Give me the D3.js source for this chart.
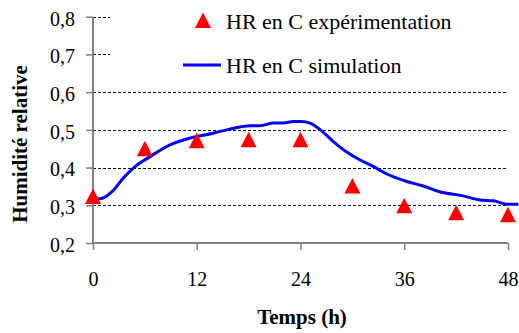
<!DOCTYPE html>
<html>
<head>
<meta charset="utf-8">
<script src="https://cdn.jsdelivr.net/npm/d3@7"></script>
<style>
  html, body { margin: 0; padding: 0; background: #fff; }
  svg { display: block; }
  svg text { font-family: "Times New Roman", "Liberation Serif", Tinos, "DejaVu Serif", serif !important; fill: #000; }
</style>
</head>
<body>
<svg id="chart" width="519" height="333"></svg>
<script>
// ---- data ----
const expTimes = [0, 6, 12, 18, 24, 30, 36, 42, 48];
const expValues = [0.323, 0.45, 0.471, 0.474, 0.474, 0.351, 0.299, 0.280, 0.275];

const simTimes = [0, 1, 2.2, 3.5, 4.9, 6.6, 8.9, 11.2, 13.9, 15.8, 18.2, 19.3, 20.9, 22, 23.2, 24.1, 25.1, 26.3, 27.8, 29.3, 30.9, 32.4, 34, 36.3, 38.2, 40.1, 42.8, 44.8, 46.3, 47.8, 49.2];
const simValues = [0.316, 0.318, 0.336, 0.372, 0.403, 0.429, 0.46, 0.478, 0.491, 0.502, 0.511, 0.511, 0.518, 0.518, 0.522, 0.522, 0.518, 0.5, 0.469, 0.442, 0.42, 0.403, 0.383, 0.363, 0.351, 0.336, 0.325, 0.314, 0.312, 0.303, 0.303];

const xTicks = [0, 12, 24, 36, 48];
const yTicks = [0.2, 0.3, 0.4, 0.5, 0.6, 0.7, 0.8];
const legendLabels = ["HR en C expérimentation", "HR en C simulation"];
const xTitle = "Temps (h)";
const yTitle = "Humidité relative";

// ---- layout ----
const svg = d3.select("#chart");
const x = d3.scaleLinear().domain([0, 48]).range([93, 508]);
const y = d3.scaleLinear().domain([0.2, 0.8]).range([243, 16.7]);
const fmt = d => d3.format(".1f")(d).replace(".", ",");

// gridlines
svg.append("g").selectAll("line").data(yTicks.filter(d => d > 0.2)).join("line")
  .attr("x1", x(0)).attr("x2", x(48))
  .attr("y1", d => Math.round(y(d)) + 0.5).attr("y2", d => Math.round(y(d)) + 0.5)
  .attr("stroke", "#000").attr("stroke-width", 1).attr("stroke-dasharray", "3,2");

// legend background
svg.append("rect").attr("x", 110).attr("y", 2).attr("width", 405).attr("height", 82).attr("fill", "#fff");

// axes
const axisColor = "#808080";
const yAxis = svg.append("g").attr("transform", `translate(${x(0)},0)`)
  .call(d3.axisLeft(y).tickValues(yTicks).tickFormat(fmt).tickSize(7).tickPadding(11));
const xAxis = svg.append("g").attr("transform", `translate(0,${y(0.2)})`)
  .call(d3.axisBottom(x).tickValues(xTicks).tickFormat(d3.format("d")).tickSize(7).tickPadding(22));
[xAxis, yAxis].forEach(g => {
  g.attr("font-family", null).attr("font-size", 20);
  g.select(".domain").attr("stroke", axisColor).attr("stroke-width", 2);
  g.selectAll(".tick line").attr("stroke", axisColor).attr("stroke-width", 1.5);
  g.selectAll(".tick text").attr("font-size", 20).attr("fill", "#000");
});
yAxis.select(".domain").attr("d", `M0,${y(0.8)}V${y(0.2)}`);
xAxis.select(".domain").attr("d", `M${x(0)},0H${x(48)}`);
yAxis.selectAll(".tick text").attr("dy", "0.42em");

// simulation line
const line = d3.line().x(d => x(d[0])).y(d => y(d[1])).curve(d3.curveMonotoneX);
svg.append("path").datum(simTimes.map((t, i) => [t, simValues[i]]))
  .attr("d", line).attr("fill", "none").attr("stroke", "#0000FF").attr("stroke-width", 3);

// experimental markers
const tri = (cx, cy) => `M${cx},${cy - 8}L${cx + 8},${cy + 7.5}L${cx - 8},${cy + 7.5}Z`;
svg.append("g").selectAll("path").data(expTimes.map((t, i) => [t, expValues[i]])).join("path")
  .attr("d", d => tri(x(d[0]), y(d[1]))).attr("fill", "#FF0000");

// legend
svg.append("path").attr("d", tri(203, 20.5)).attr("fill", "#FF0000");
svg.append("line").attr("x1", 183).attr("x2", 221).attr("y1", 65).attr("y2", 65)
  .attr("stroke", "#0000FF").attr("stroke-width", 3);
svg.append("text").attr("x", 226).attr("y", 29).attr("font-size", 22).text(legendLabels[0]);
svg.append("text").attr("x", 226).attr("y", 73).attr("font-size", 22).text(legendLabels[1]);

// titles
svg.append("text").attr("x", 302).attr("y", 324).attr("text-anchor", "middle")
  .attr("font-size", 21).attr("font-weight", "bold").text(xTitle);
svg.append("text").attr("transform", "translate(27,144) rotate(-90)").attr("text-anchor", "middle")
  .attr("font-size", 21).attr("font-weight", "bold").text(yTitle);
</script>
</body>
</html>
